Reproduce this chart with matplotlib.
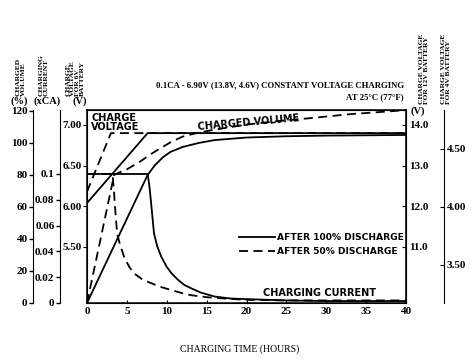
import matplotlib
matplotlib.use("Agg")
import matplotlib.pyplot as plt

plt.rcParams['font.family'] = ['Liberation Serif', 'DejaVu Serif']

# axis ticks
hour_ticks = [0, 5, 10, 15, 20, 25, 30, 35, 40]
pct_ticks = [0, 20, 40, 60, 80, 100, 120]
ca_ticks = [0, 0.02, 0.04, 0.06, 0.08, 0.1]
ca_labels = ['0', '0.02', '0.04', '0.06', '0.08', '0.1']
v6_ticks = [5.5, 6.0, 6.5, 7.0]
v12_ticks = [11.0, 12.0, 13.0, 14.0]
v4_ticks = [3.5, 4.0, 4.5]

# charge voltage (6V battery scale)
t_volt_100 = [0, 7.6, 40]
volt_100 = [6.04, 6.90, 6.90]
t_volt_50 = [0, 3.0, 40]
volt_50 = [6.18, 6.90, 6.90]

# charged volume (%)
t_vol_100 = [0, 7.6, 8.5, 9.5, 10.5, 12, 14, 16, 20, 25, 30, 40]
vol_100 = [0, 80, 86, 91, 94.5, 97.5, 100, 101.8, 103.4, 104.2, 104.6, 105]
t_vol_50 = [0, 3.4, 4, 5, 6.7, 8, 9.3, 10.5, 12, 14, 16, 20, 24, 28, 33, 40]
vol_50 = [0, 80, 81.5, 83.5, 88.5, 93, 97, 100.5, 104, 106.5, 108.3, 111.5,
          113.7, 115.5, 118, 120.5]

# charging current (xCA)
t_cur_100 = [0, 7.6, 7.8, 8.0, 8.4, 8.8, 9.3, 10, 10.6, 11.4, 12.2, 13.2,
             14.3, 16, 18, 20, 25, 30, 40]
cur_100 = [0.1, 0.1, 0.092, 0.080, 0.054, 0.044, 0.036, 0.028, 0.023, 0.018,
           0.014, 0.011, 0.008, 0.005, 0.0035, 0.003, 0.002, 0.0015, 0.0015]
t_cur_50 = [0, 3.2, 3.4, 3.6, 3.8, 4.2, 4.7, 5.3, 5.9, 7, 8, 9.2, 10.6, 12,
            13.1, 15, 17.5, 20, 25, 40]
cur_50 = [0.1, 0.1, 0.085, 0.067, 0.053, 0.044, 0.035, 0.028, 0.023, 0.018,
          0.0155, 0.0125, 0.010, 0.0075, 0.006, 0.0045, 0.0033, 0.0025, 0.002,
          0.002]

W, H = 473, 364
tick_font = dict(family='Liberation Serif', weight='bold', size=8)
sans_bold = dict(family='DejaVu Sans', weight='bold', size=7)
legend_font = dict(family='DejaVu Sans', weight='bold', size=6.6)
lw = 1.3
dash = (0, (5, 3))


def fx(px):
    return px / W


def fy(py):
    return 1 - py / H


def style_ticks(axis, labels):
    for lab in labels:
        lab.set_fontfamily(tick_font['family'])
        lab.set_fontweight(tick_font['weight'])
        lab.set_fontsize(tick_font['size'])


def left_axis(host, pos):
    a = host.twinx()
    for s in ['top', 'bottom', 'right']:
        a.spines[s].set_visible(False)
    a.spines['left'].set_visible(True)
    a.spines['left'].set_position(('axes', pos))
    a.yaxis.set_ticks_position('left')
    a.yaxis.set_label_position('left')
    a.tick_params(axis='y', direction='out', length=3, width=1, pad=1)
    a.patch.set_visible(False)
    return a


fig = plt.figure(figsize=(W / 100, H / 100), dpi=100)
ax = fig.add_axes([fx(87), fy(303), 319 / W, 193 / H])

# host: time axis and 6V voltage
ax.set_xlim(0, 40)
ax.set_ylim(4.8106, 7.1845)
ax.set_xticks(hour_ticks)
ax.set_yticks(v6_ticks)
ax.set_yticklabels(['%.2f' % v for v in v6_ticks])
ax.tick_params(axis='x', direction='in', length=2, pad=3)
ax.tick_params(axis='y', direction='out', length=3, pad=1)
style_ticks(ax, ax.get_xticklabels() + ax.get_yticklabels())
for s in ax.spines.values():
    s.set_linewidth(1.1)

# 12V scale on right frame
ax12 = ax.twinx()
ax12.set_ylim(9.621, 14.369)
ax12.set_yticks(v12_ticks)
ax12.set_yticklabels(['%.1f' % v for v in v12_ticks])
ax12.tick_params(axis='y', direction='in', length=3, pad=2)
style_ticks(ax12, ax12.get_yticklabels())

# 4V scale far right
ax4 = ax.twinx()
for s in ['top', 'bottom', 'left']:
    ax4.spines[s].set_visible(False)
ax4.spines['right'].set_position(('axes', 1.119))
ax4.set_ylim(3.172, 4.836)
ax4.set_yticks(v4_ticks)
ax4.set_yticklabels(['%.2f' % v for v in v4_ticks])
ax4.tick_params(axis='y', direction='in', length=3, pad=2)
style_ticks(ax4, ax4.get_yticklabels())

# charged volume % and current CA on the far left
axp = left_axis(ax, -0.169)
axp.set_ylim(0, 120.6)
axp.set_yticks(pct_ticks)
style_ticks(axp, axp.get_yticklabels())

axc = left_axis(ax, -0.0846)
axc.set_ylim(0, 0.1496)
axc.set_yticks(ca_ticks)
axc.set_yticklabels(ca_labels)
style_ticks(axc, axc.get_yticklabels())

# curves
ax.plot(t_volt_50, volt_50, color='black', lw=lw, linestyle=dash)
ax.plot(t_volt_100, volt_100, color='black', lw=lw)
axp.plot(t_vol_50, vol_50, color='black', lw=lw, linestyle=dash, clip_on=False)
axp.plot(t_vol_100, vol_100, color='black', lw=lw)
axc.plot(t_cur_50, cur_50, color='black', lw=lw, linestyle=dash)
axc.plot(t_cur_100, cur_100, color='black', lw=lw)

# legend
h1, = ax.plot([], [], color='black', lw=lw)
h2, = ax.plot([], [], color='black', lw=lw, linestyle=dash)
leg = axc.legend([h1, h2], ['AFTER 100% DISCHARGE', 'AFTER 50% DISCHARGE'],
                 loc='upper left', bbox_to_anchor=(0.475, 0.362),
                 frameon=False, handlelength=4.0, handletextpad=0.15,
                 labelspacing=0.5, borderpad=0, borderaxespad=0,
                 prop=legend_font)

# in-plot annotations
axc.text(0.013, 0.985, 'CHARGE\nVOLTAGE', transform=ax.transAxes,
         ha='left', va='top', linespacing=0.95, **sans_bold)
axc.text(0.505, 0.935, 'CHARGED VOLUME', transform=ax.transAxes,
         ha='center', va='center', rotation=5, **sans_bold)
axc.text(0.73, 0.052, 'CHARGING CURRENT', transform=ax.transAxes,
         ha='center', va='center', **sans_bold)

# title lines
label_font = dict(family='Liberation Serif', weight='bold')
fig.text(fx(404), fy(85), '0.1CA - 6.90V (13.8V, 4.6V) CONSTANT VOLTAGE CHARGING',
         ha='right', va='center', size=6.3, **label_font)
fig.text(fx(404), fy(97), 'AT 25\u00b0C (77\u00b0F)',
         ha='right', va='center', size=6.3, **label_font)

# axis captions
fig.text(fx(240), fy(349), 'CHARGING TIME (HOURS)', ha='center', va='center',
         family='Liberation Serif', size=7)

side = dict(rotation=90, ha='center', va='bottom', multialignment='left',
            linespacing=0.95, size=5.4, **label_font)
fig.text(fx(21), fy(96), 'CHARGED\nVOLUME', **side)
fig.text(fx(44), fy(96), 'CHARGING\nCURRENT', **side)
fig.text(fx(75), fy(96), 'CHARGE\nVOLTAGE\nFOR 6V\nBATTERY', **side)
fig.text(fx(424), fy(104), 'CHARGE VOLTAGE\nFOR 12V BATTERY', **side)
fig.text(fx(446), fy(104), 'CHARGE VOLTAGE\nFOR 4V BATTERY', **side)

unit = dict(ha='center', va='center', size=7.5, **label_font)
fig.text(fx(19), fy(101), '(%)', **unit)
fig.text(fx(47), fy(101), '(xCA)', **unit)
fig.text(fx(80), fy(101), '(V)', **unit)
fig.text(fx(418), fy(111), '(V)', **unit)

fig.savefig('out.png', dpi=100)
